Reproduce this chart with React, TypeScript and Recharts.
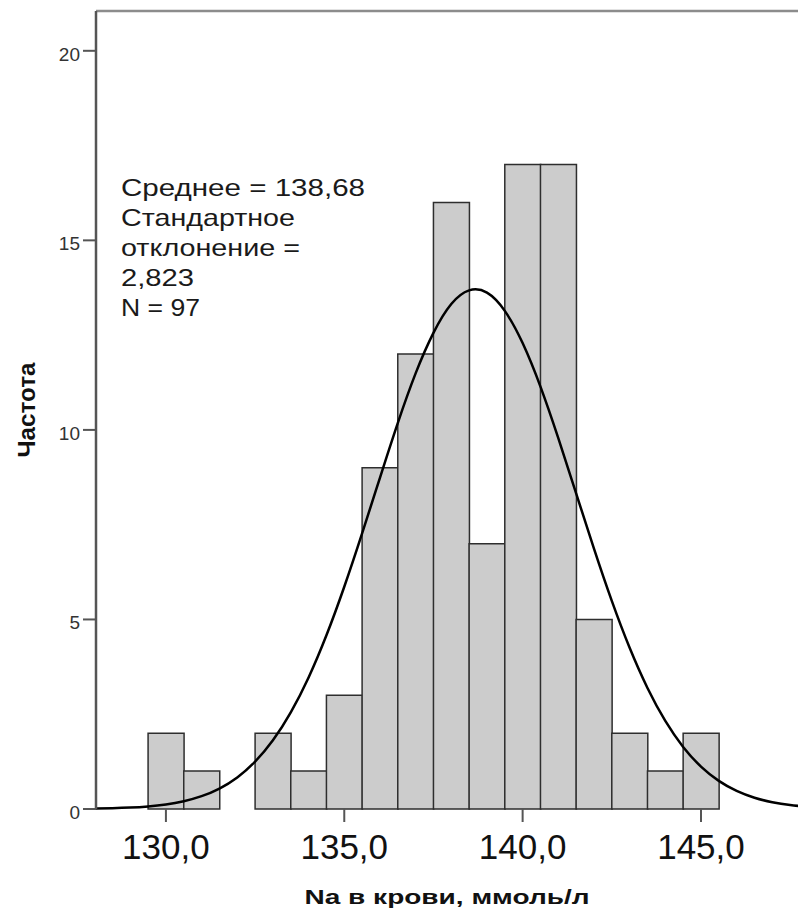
import { ComposedChart, Bar, Line, XAxis, YAxis, ReferenceLine, Label } from "recharts";

// histogram bins: bin centre (width 1) and frequency
const binCenters = [130, 131, 132, 133, 134, 135, 136, 137, 138, 139, 140, 141, 142, 143, 144, 145];
const binCounts = [2, 1, 0, 2, 1, 3, 9, 12, 16, 7, 17, 17, 5, 2, 1, 2];

// normal curve
const curveX = [
  128, 128.5, 129, 129.5, 130, 130.5, 131, 131.5, 132, 132.5, 133, 133.5, 134, 134.5,
  135, 135.5, 136, 136.5, 137, 137.5, 138, 138.5, 139, 139.5, 140, 140.5, 141, 141.5,
  142, 142.5, 143, 143.5, 144, 144.5, 145, 145.5, 146, 146.5, 147, 147.5, 148,
];
const curveY = [
  0.011, 0.021, 0.038, 0.069, 0.121, 0.206, 0.339, 0.54, 0.834, 1.249, 1.811, 2.547, 3.47, 4.582,
  5.862, 7.27, 8.737, 10.18, 11.49, 12.56, 13.32, 13.68, 13.62, 13.14, 12.29, 11.14, 9.781, 8.325,
  6.866, 5.488, 4.251, 3.192, 2.322, 1.637, 1.119, 0.741, 0.476, 0.296, 0.178, 0.104, 0.059,
];

const xTicks = [130, 135, 140, 145];
const yTicks = [0, 5, 10, 15, 20];
const statLines = ["Среднее = 138,68", "Стандартное", "отклонение =", "2,823", "N = 97"];
const xTitle = "Na в крови, ммоль/л";
const yTitle = "Частота";

const binData = binCenters.map((b, i) => ({ bin: b, count: binCounts[i] }));
const curveData = curveX.map((x, i) => ({ x, y: curveY[i] }));

const X_DOMAIN = [128.04, 147.72];
const Y_MAX = 21.05;
const FONT = "'Liberation Sans', Arial, sans-serif";

// widths of the stat lines as they appear in the reference
const statWidths = [244, 174, 179, 73, 79];

const fmtTick = (v: number) => v.toFixed(1).replace(".", ",");

export default function App() {
  return (
    <div style={{ position: "absolute", left: 0, top: 0, width: 798, height: 916, fontFamily: FONT }}>
      <ComposedChart
        width={798}
        height={916}
        data={binData}
        margin={{ top: 11, right: 0, bottom: 0, left: 0 }}
        barCategoryGap={0}
        barGap={0}
      >
        <XAxis
          xAxisId="bins"
          dataKey="bin"
          type="number"
          domain={X_DOMAIN}
          allowDataOverflow
          ticks={xTicks}
          tickFormatter={fmtTick}
          height={107}
          axisLine={false}
          tickLine={{ stroke: "#555", strokeWidth: 2 }}
          tickSize={13}
          tickMargin={12}
          tick={{ fontSize: 35, fill: "#111", fontFamily: FONT }}
        >
          <Label
            content={(props: any) => {
              const vb = props.viewBox;
              return (
                <text
                  x={vb.x + vb.width / 2}
                  y={vb.y + 95}
                  textAnchor="middle"
                  fontSize={21}
                  fontWeight="bold"
                  fontFamily={FONT}
                  fill="#111"
                  textLength={285}
                  lengthAdjust="spacingAndGlyphs"
                >
                  {xTitle}
                </text>
              );
            }}
          />
        </XAxis>
        <XAxis xAxisId="curve" dataKey="x" type="number" domain={X_DOMAIN} allowDataOverflow hide />
        <YAxis
          type="number"
          domain={[0, Y_MAX]}
          ticks={yTicks}
          width={96}
          axisLine={{ stroke: "#555", strokeWidth: 2.5 }}
          tickLine={{ stroke: "#555", strokeWidth: 2 }}
          tickSize={13}
          tickMargin={3}
          tick={{ fontSize: 19, fill: "#333", fontFamily: FONT, dy: 3 }}
        >
          <Label
            content={(props: any) => {
              const vb = props.viewBox;
              const cx = 26;
              const cy = vb.y + vb.height / 2;
              return (
                <text
                  x={cx}
                  y={cy}
                  transform={`rotate(-90, ${cx}, ${cy})`}
                  textAnchor="middle"
                  dominantBaseline="central"
                  fontSize={24}
                  fontWeight="bold"
                  fontFamily={FONT}
                  fill="#111"
                  textLength={95}
                  lengthAdjust="spacingAndGlyphs"
                >
                  {yTitle}
                </text>
              );
            }}
          />
        </YAxis>
        <ReferenceLine
          xAxisId="bins"
          y={Y_MAX}
          stroke="#8c8c8c"
          strokeWidth={2.5}
          ifOverflow="visible"
        />
        <Bar
          xAxisId="bins"
          dataKey="count"
          fill="#cccccc"
          stroke="#2e2e2e"
          strokeWidth={1.5}
          isAnimationActive={false}
        />
        <Line
          xAxisId="curve"
          data={curveData}
          dataKey="y"
          type="natural"
          stroke="#000"
          strokeWidth={2.5}
          dot={false}
          activeDot={false}
          isAnimationActive={false}
        />
      </ComposedChart>
      <svg
        width={798}
        height={916}
        style={{ position: "absolute", left: 0, top: 0, pointerEvents: "none" }}
      >
        {statLines.map((line, i) => (
          <text
            key={line}
            x={121}
            y={196 + i * 30}
            fontSize={24}
            fontFamily={FONT}
            fill="#1a1a1a"
            textLength={statWidths[i]}
            lengthAdjust="spacingAndGlyphs"
          >
            {line}
          </text>
        ))}
      </svg>
    </div>
  );
}
